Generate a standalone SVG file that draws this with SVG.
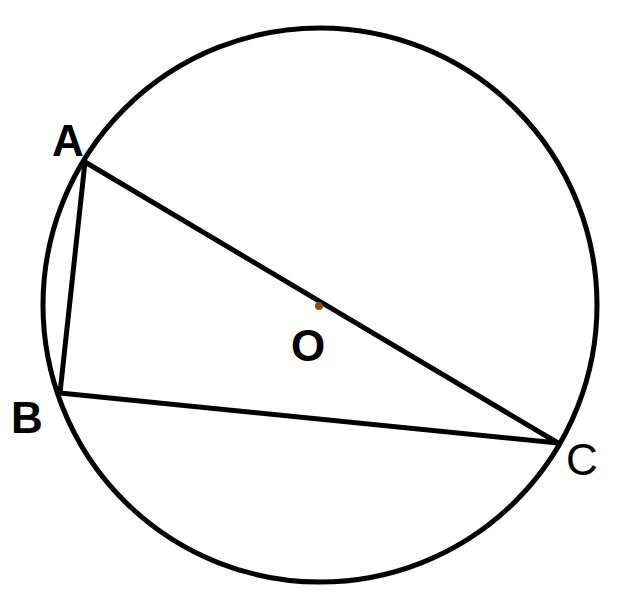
<svg xmlns="http://www.w3.org/2000/svg" width="620" height="600" viewBox="0 0 620 600">
<style>
.s{fill:none;stroke:#000;stroke-width:5;stroke-linejoin:round;stroke-linecap:round}
.l{font-family:"Liberation Sans",Arial,sans-serif;font-size:44px;fill:#000}
.b{font-weight:bold}
</style>
<rect width="620" height="600" fill="#fff"/>
<g id="circle"><circle class="s" cx="320" cy="305" r="277"/></g>
<g id="connectors">
<polygon class="s" points="85,162 60,393 558,443"/>
</g>
<g id="O"><circle cx="319" cy="306" r="4" fill="#8a4a10"/><text class="l b" x="291" y="361">O</text></g>
<g id="A"><text class="l b" x="52" y="156">A</text></g>
<g id="B"><text class="l b" x="11" y="433">B</text></g>
<g id="C"><text class="l" x="566" y="475">C</text></g>
</svg>
